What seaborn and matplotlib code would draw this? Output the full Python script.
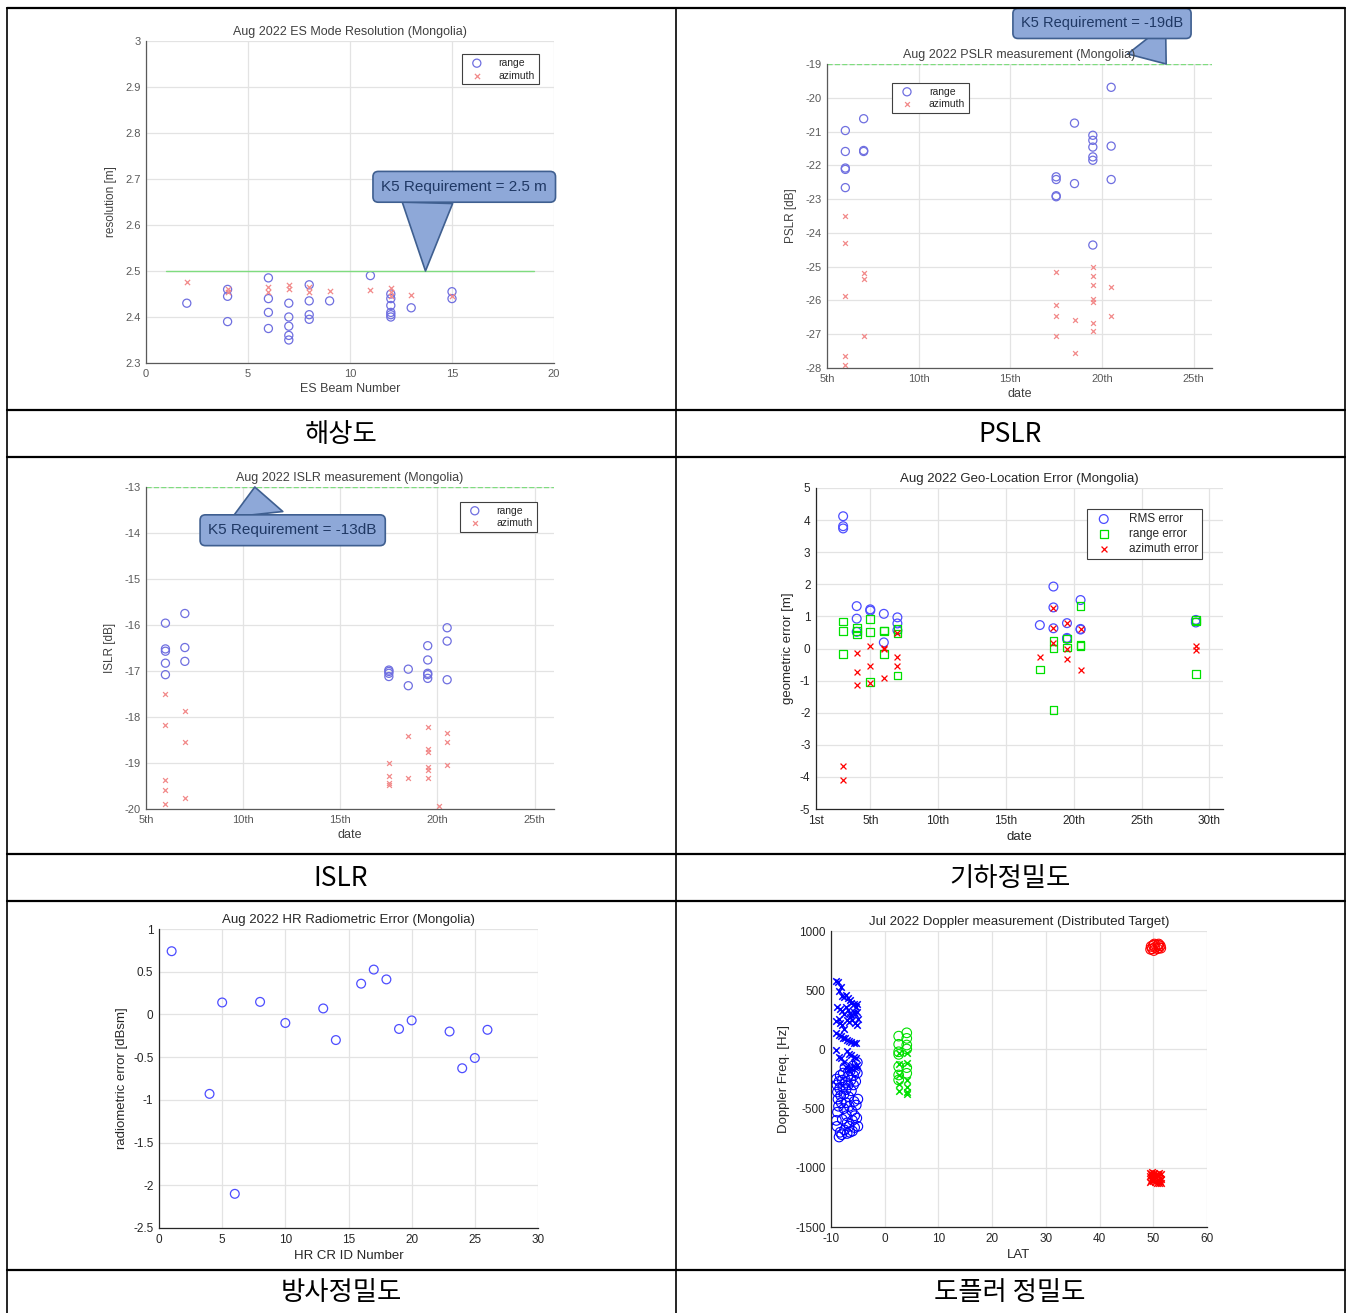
import matplotlib
matplotlib.use("Agg")
import matplotlib.pyplot as plt
from matplotlib.lines import Line2D
from matplotlib.ticker import FuncFormatter
import seaborn as sns

# -----------------------------
# Data: ES mode resolution
# -----------------------------
res_range_beam = [2, 4, 4, 4, 6, 6, 6, 6, 7, 7, 7, 7, 7, 8, 8, 8, 8, 9, 11,
                  12, 12, 12, 12, 12, 12, 13, 15, 15]
res_range_val = [2.43, 2.39, 2.445, 2.46, 2.485, 2.44, 2.41, 2.375, 2.43, 2.40, 2.38, 2.36, 2.35,
                 2.47, 2.435, 2.405, 2.395, 2.435, 2.49,
                 2.45, 2.44, 2.425, 2.41, 2.405, 2.40, 2.42, 2.455, 2.44]
res_az_beam = [2, 4, 4, 6, 6, 7, 7, 8, 8, 9, 11, 12, 12, 12, 13, 15]
res_az_val = [2.475, 2.46, 2.455, 2.465, 2.455, 2.47, 2.46, 2.465, 2.455, 2.457, 2.458,
              2.462, 2.455, 2.445, 2.447, 2.445]
res_req = 2.5
res_req_span = [1, 19]

# -----------------------------
# Data: PSLR
# -----------------------------
pslr_range_day = [6, 6, 6, 6, 6, 7, 7, 7, 17.5, 17.5, 17.5, 17.5, 18.5, 18.5,
                  19.5, 19.5, 19.5, 19.5, 19.5, 19.5, 20.5, 20.5, 20.5]
pslr_range_val = [-20.97, -21.59, -22.08, -22.12, -22.66, -20.62, -21.56, -21.59,
                  -22.34, -22.42, -22.90, -22.93, -20.75, -22.54,
                  -21.11, -21.26, -21.46, -21.75, -21.85, -24.36, -19.69, -21.43, -22.42]
pslr_az_day = [6, 6, 6, 6, 6, 7, 7, 7, 17.5, 17.5, 17.5, 17.5, 18.5, 18.5,
               19.5, 19.5, 19.5, 19.5, 19.5, 19.5, 19.5, 20.5, 20.5]
pslr_az_val = [-23.49, -24.31, -25.88, -27.65, -27.9, -25.19, -25.37, -27.06,
               -25.17, -26.13, -26.47, -27.04, -26.59, -27.55,
               -25.02, -25.29, -25.54, -25.96, -26.06, -26.67, -26.89, -25.61, -26.45]
pslr_req = -19

# -----------------------------
# Data: ISLR
# -----------------------------
islr_range_day = [6, 6, 6, 6, 6, 7, 7, 7, 17.5, 17.5, 17.5, 17.5, 18.5, 18.5,
                  19.5, 19.5, 19.5, 19.5, 19.5, 20.5, 20.5, 20.5]
islr_range_val = [-15.96, -16.52, -16.57, -16.83, -17.08, -15.75, -16.49, -16.79,
                  -16.98, -17.01, -17.05, -17.12, -16.96, -17.32,
                  -16.45, -16.76, -17.05, -17.08, -17.16, -16.06, -16.35, -17.19]
islr_az_day = [6, 6, 6, 6, 6, 7, 7, 7, 17.5, 17.5, 17.5, 17.5, 18.5, 18.5,
               19.5, 19.5, 19.5, 19.5, 19.5, 19.5, 20.1, 20.5, 20.5, 20.5]
islr_az_val = [-17.5, -18.17, -19.38, -19.58, -19.89, -17.88, -18.55, -19.75,
               -19.0, -19.29, -19.43, -19.47, -18.42, -19.33,
               -18.21, -18.69, -18.77, -19.08, -19.15, -19.33, -19.94, -18.35, -18.55, -19.04]
islr_req = -13

# -----------------------------
# Data: geo-location error
# -----------------------------
geo_rms_day = [3, 3, 3, 4, 4, 4, 5, 5, 6, 6, 7, 7, 7, 17.5, 18.5, 18.5, 18.5,
               19.5, 19.5, 19.5, 20.5, 20.5, 20.5, 29, 29]
geo_rms_val = [4.12, 3.81, 3.74, 1.32, 0.93, 0.52, 1.22, 1.18, 1.08, 0.19, 0.97, 0.78, 0.57,
               0.73, 1.93, 1.28, 0.63, 0.79, 0.33, 0.30, 1.51, 0.61, 0.59, 0.89, 0.81]
geo_rng_day = [3, 3, 3, 4, 4, 4, 5, 5, 5, 6, 6, 6, 7, 7, 7, 17.5, 18.5, 18.5, 18.5,
               19.5, 19.5, 20.5, 20.5, 20.5, 29, 29, 29]
geo_rng_val = [0.84, 0.54, -0.17, 0.63, 0.54, 0.44, 0.92, 0.52, -1.05, 0.56, 0.54, -0.17,
               0.60, 0.47, -0.84, -0.65, 0.23, 0.0, -1.91, 0.31, 0.03, 1.33, 0.11, 0.07,
               0.89, 0.84, -0.80]
geo_az_day = [3, 3, 4, 4, 4, 5, 5, 5, 6, 6, 6, 7, 7, 7, 17.5, 18.5, 18.5, 18.5,
              19.5, 19.5, 19.5, 20.5, 20.5, 29, 29]
geo_az_val = [-3.67, -4.10, -0.13, -0.74, -1.15, 0.08, -0.53, -1.08, 0.03, 0.0, -0.93,
              0.47, -0.28, -0.54, -0.28, 1.27, 0.65, 0.16, 0.79, 0.0, -0.32, 0.61, -0.68,
              0.07, -0.06]

# -----------------------------
# Data: radiometric error
# -----------------------------
rad_id = [1, 4, 5, 6, 8, 10, 13, 14, 16, 17, 18, 19, 20, 23, 24, 25, 26]
rad_err = [0.74, -0.93, 0.14, -2.10, 0.147, -0.10, 0.07, -0.30, 0.36, 0.525, 0.41,
           -0.17, -0.07, -0.20, -0.63, -0.51, -0.18]

# -----------------------------
# Data: Doppler
# -----------------------------
dop_bx_lat = [-9.0, -8.7, -8.5, -8.1, -7.9, -7.5, -7.2, -6.9, -6.5, -6.2, -5.8, -5.4, -5.1,
              -8.8, -8.4, -8.0, -7.6, -7.2, -6.9, -6.5, -6.2, -5.8, -5.5, -5.1,
              -9.0, -8.6, -8.3, -7.9, -7.5, -7.1, -6.7, -6.4, -6.0, -5.6, -5.2, -5.0,
              -9.0, -8.6, -8.2, -7.8, -7.4, -7.0, -6.6, -6.2, -5.8, -5.3,
              -9.1, -8.5, -8.1, -7.6, -7.0, -6.6, -6.2, -5.8, -5.3,
              -7.2, -6.7, -6.3, -5.9, -5.5, -5.1]
dop_bx_hz = [575, 570, 490, 530, 455, 445, 460, 430, 415, 390, 385, 360, 380,
             360, 345, 325, 300, 360, 330, 310, 290, 320, 300, 320,
             240, 255, 225, 210, 175, 250, 235, 270, 250, 220, 205, 260,
             135, 120, 110, 100, 95, 80, 70, 65, 55, 50,
             -5, -60, -75, -110, -10, -40, -50, -65, -70,
             -150, -175, -160, -140, -150, -130]
dop_bo_lat = [-9.0, -8.9, -8.8, -8.7, -8.6, -8.8, -8.5, -8.4, -8.3, -8.2, -8.1, -8.3, -8.5,
              -8.0, -7.9, -7.8, -7.7, -7.6, -7.6, -7.5, -7.4, -7.3, -7.2, -7.2, -7.1, -7.0,
              -7.0, -6.9, -6.8, -6.7, -6.6, -6.6, -6.5, -6.4, -6.3, -6.2, -6.1, -6.0, -6.0,
              -5.9, -5.8, -5.8, -5.7, -5.6, -5.6, -5.5, -5.4, -5.3, -5.2, -5.1, -5.1, -5.0,
              -5.0, -9.0, -8.9, -7.9]
dop_bo_hz = [-250, -300, -360, -420, -480, -530, -270, -330, -220, -390, -450, -700, -740,
             -720, -260, -320, -200, -380, -500, -680, -150, -280, -340, -450, -560, -620,
             -710, -230, -300, -400, -480, -650, -700, -180, -260, -350, -520, -600, -690,
             -140, -220, -300, -440, -560, -660, -180, -270, -470, -580, -110, -200, -420,
             -650, -600, -650, -590]
dop_go_lat = [2.6, 2.6, 2.6, 2.6, 2.6, 2.6, 2.6, 4.1, 4.1, 4.1, 4.1, 4.1, 4.1]
dop_go_hz = [112, 43, -20, -42, -146, -216, -258, 140, 93, 37, 3, -154, -202]
dop_gx_lat = [2.6, 2.6, 2.6, 2.6, 2.6, 4.1, 4.1, 4.1, 4.1, 4.1, 4.1]
dop_gx_hz = [-28, -126, -216, -292, -351, -34, -118, -258, -314, -362, -379]
dop_ro_lat = [49.6, 49.8, 50.0, 50.1, 50.3, 49.5, 50.9, 51.1, 51.3, 50.8, 51.0, 51.4, 50.2]
dop_ro_hz = [870, 850, 880, 835, 860, 845, 880, 860, 875, 850, 890, 855, 890]
dop_rx_lat = [49.3, 49.4, 49.5, 49.6, 49.7, 49.8, 49.9, 50.0, 50.1, 50.2, 50.3, 50.5,
              50.7, 50.8, 50.9, 51.0, 51.1, 51.2, 51.3, 51.4, 51.5, 49.4, 50.6, 51.5]
dop_rx_hz = [-1040, -1070, -1100, -1055, -1085, -1035, -1115, -1060, -1090, -1045, -1120,
             -1075, -1050, -1100, -1065, -1125, -1040, -1085, -1110, -1055, -1095, -1120,
             -1130, -1130]

captions = ["해상도", "PSLR", "ISLR", "기하정밀도", "방사정밀도", "도플러 정밀도"]

# -----------------------------
# Figure set-up
# -----------------------------
sns.set_style("white")
plt.rcParams["font.family"] = ["Liberation Sans", "DejaVu Sans"]
plt.rcParams["axes.unicode_minus"] = False

W, H = 1346, 1313
fig = plt.figure(figsize=(W / 100, H / 100), dpi=100)


def px_axes(l, t, r, b):
    return fig.add_axes([l / W, 1 - b / H, (r - l) / W, (b - t) / H])


def style_ax(ax, faded=False, fs=8.5):
    tc = "#5a5a5a" if faded else "#262626"
    for s in ["top", "right"]:
        ax.spines[s].set_visible(False)
    for s in ["left", "bottom"]:
        ax.spines[s].set_color(tc)
        ax.spines[s].set_linewidth(0.9)
    ax.grid(True, color="#e3e3e3", linewidth=0.9)
    ax.set_axisbelow(True)
    ax.tick_params(direction="in", length=3, colors=tc, labelsize=fs, pad=4)
    ax.yaxis.set_major_formatter(FuncFormatter(lambda v, p: f"{v:g}"))


def legend(ax, fs=8, **kw):
    lg = ax.legend(frameon=True, fancybox=False, framealpha=1, fontsize=fs,
                   handlelength=2.2, handletextpad=1.0, borderpad=0.35,
                   labelspacing=0.25, **kw)
    lg.get_frame().set_edgecolor("#404040")
    lg.get_frame().set_linewidth(0.8)
    return lg


def callout(ax, text, tip, box, relpos, fs=11):
    ax.annotate(text, xy=tip, xytext=box, ha="center", va="center", fontsize=fs,
                color="#1f3864",
                bbox=dict(boxstyle="round,pad=0.55,rounding_size=0.35", fc="#8ea8d8",
                          ec="#3f5f90", lw=1.2),
                arrowprops=dict(arrowstyle="wedge,tail_width=3.3,shrink_factor=0.5",
                                fc="#8ea8d8", ec="#3f5f90", lw=1.2, relpos=relpos,
                                shrinkA=0, shrinkB=0),
                annotation_clip=False)


faint_blue = "#6f6fe0"
faint_red = "#f28a8a"
date_ticks = [5, 10, 15, 20, 25]
date_labels = ["5th", "10th", "15th", "20th", "25th"]

# -----------------------------
# Panel 1: resolution
# -----------------------------
ax1 = px_axes(146, 41, 554, 363)
sns.lineplot(x=res_req_span, y=[res_req, res_req], color="#7fdc7f", lw=1, ax=ax1)
sns.scatterplot(x=res_range_beam, y=res_range_val, marker="o", s=34, facecolor="none",
                edgecolor=faint_blue, linewidth=0.9, ax=ax1, label="range")
sns.scatterplot(x=res_az_beam, y=res_az_val, marker="x", s=14, color=faint_red,
                linewidth=0.9, ax=ax1, label="azimuth")
ax1.set_xlim(0, 20)
ax1.set_ylim(2.3, 3)
ax1.set_xticks([0, 5, 10, 15, 20])
ax1.set_yticks([2.3, 2.4, 2.5, 2.6, 2.7, 2.8, 2.9, 3.0])
style_ax(ax1, faded=True, fs=8)
ax1.set_title("Aug 2022 ES Mode Resolution (Mongolia)", fontsize=9, color="#404040", pad=4)
ax1.set_xlabel("ES Beam Number", fontsize=9, color="#404040", labelpad=3)
ax1.set_ylabel("resolution [m]", fontsize=8.5, color="#404040", labelpad=6)
legend(ax1, loc="upper right", bbox_to_anchor=(0.975, 0.975), fs=7.5)
callout(ax1, "K5 Requirement = 2.5 m", (13.7, res_req), (15.6, 2.683), (0.28, 0.2))

# -----------------------------
# Panel 2: PSLR
# -----------------------------
ax2 = px_axes(827, 64, 1212, 368)
sns.lineplot(x=[5, 26], y=[pslr_req, pslr_req], color="#7fdc7f", lw=1, ls="--", ax=ax2)
sns.scatterplot(x=pslr_range_day, y=pslr_range_val, marker="o", s=34, facecolor="none",
                edgecolor=faint_blue, linewidth=0.9, ax=ax2, label="range")
sns.scatterplot(x=pslr_az_day, y=pslr_az_val, marker="x", s=12, color=faint_red,
                linewidth=0.9, ax=ax2, label="azimuth")
ax2.set_xlim(5, 26)
ax2.set_ylim(-28, -19)
ax2.set_xticks(date_ticks)
ax2.set_xticklabels(date_labels)
ax2.set_yticks(range(-28, -18))
style_ax(ax2, faded=True, fs=8)
ax2.set_title("Aug 2022 PSLR measurement (Mongolia)", fontsize=9, color="#404040", pad=4)
ax2.set_xlabel("date", fontsize=9, color="#404040", labelpad=3)
ax2.set_ylabel("PSLR [dB]", fontsize=8.5, color="#404040", labelpad=6)
legend(ax2, loc="upper left", bbox_to_anchor=(0.155, 0.955), fs=7.5)
callout(ax2, "K5 Requirement = -19dB", (23.5, pslr_req), (20.0, -17.8), (0.72, 0.2), fs=10.5)

# -----------------------------
# Panel 3: ISLR
# -----------------------------
ax3 = px_axes(146, 487, 554, 809)
sns.lineplot(x=[5, 26], y=[islr_req, islr_req], color="#7fdc7f", lw=1, ls="--", ax=ax3)
sns.scatterplot(x=islr_range_day, y=islr_range_val, marker="o", s=34, facecolor="none",
                edgecolor=faint_blue, linewidth=0.9, ax=ax3, label="range")
sns.scatterplot(x=islr_az_day, y=islr_az_val, marker="x", s=12, color=faint_red,
                linewidth=0.9, ax=ax3, label="azimuth")
ax3.set_xlim(5, 26)
ax3.set_ylim(-20, -13)
ax3.set_xticks(date_ticks)
ax3.set_xticklabels(date_labels)
ax3.set_yticks(range(-20, -12))
style_ax(ax3, faded=True, fs=8)
ax3.set_title("Aug 2022 ISLR measurement (Mongolia)", fontsize=9, color="#404040", pad=4)
ax3.set_xlabel("date", fontsize=9, color="#404040", labelpad=3)
ax3.set_ylabel("ISLR [dB]", fontsize=8.5, color="#404040", labelpad=6)
legend(ax3, loc="upper right", bbox_to_anchor=(0.97, 0.97), fs=7.5)
callout(ax3, "K5 Requirement = -13dB", (10.6, islr_req), (12.55, -13.94), (0.3, 0.8))

# -----------------------------
# Panel 4: geo-location error
# -----------------------------
ax4 = px_axes(816, 488, 1223, 809)
sns.scatterplot(x=geo_rms_day, y=geo_rms_val, marker="o", s=40, facecolor="none",
                edgecolor="#4d4dff", linewidth=0.9, ax=ax4, label="RMS error")
sns.scatterplot(x=geo_rng_day, y=geo_rng_val, marker="s", s=30, facecolor="none",
                edgecolor="#00e000", linewidth=0.9, ax=ax4, label="range error")
sns.scatterplot(x=geo_az_day, y=geo_az_val, marker="x", s=18, color="#ff0000",
                linewidth=0.9, ax=ax4, label="azimuth error")
ax4.set_xlim(1, 31)
ax4.set_ylim(-5, 5)
ax4.set_xticks([1, 5, 10, 15, 20, 25, 30])
ax4.set_xticklabels(["1st", "5th", "10th", "15th", "20th", "25th", "30th"])
ax4.set_yticks(range(-5, 6))
style_ax(ax4, fs=8.5)
ax4.set_title("Aug 2022 Geo-Location Error (Mongolia)", fontsize=9.5, color="#262626", pad=4)
ax4.set_xlabel("date", fontsize=9.5, color="#262626", labelpad=3)
ax4.set_ylabel("geometric error [m]", fontsize=9.5, color="#262626", labelpad=4)
legend(ax4, loc="upper right", bbox_to_anchor=(0.963, 0.953), fs=8.5)

# -----------------------------
# Panel 5: radiometric error
# -----------------------------
ax5 = px_axes(159, 929, 538, 1228)
sns.scatterplot(x=rad_id, y=rad_err, marker="o", s=40, facecolor="none",
                edgecolor="#4d4dff", linewidth=0.9, ax=ax5)
ax5.set_xlim(0, 30)
ax5.set_ylim(-2.5, 1)
ax5.set_xticks(range(0, 31, 5))
ax5.set_yticks([-2.5, -2, -1.5, -1, -0.5, 0, 0.5, 1])
style_ax(ax5, fs=8.5)
ax5.set_title("Aug 2022 HR Radiometric Error (Mongolia)", fontsize=9.5, color="#262626", pad=4)
ax5.set_xlabel("HR CR ID Number", fontsize=9.5, color="#262626", labelpad=3)
ax5.set_ylabel("radiometric error [dBsm]", fontsize=9.5, color="#262626", labelpad=4)

# -----------------------------
# Panel 6: Doppler
# -----------------------------
ax6 = px_axes(831, 931, 1207, 1227)
sns.scatterplot(x=dop_bo_lat, y=dop_bo_hz, marker="o", s=48, facecolor="none",
                edgecolor="#0000ff", linewidth=0.8, ax=ax6)
sns.scatterplot(x=dop_bx_lat, y=dop_bx_hz, marker="x", s=22, color="#0000ff",
                linewidth=1.1, ax=ax6)
sns.scatterplot(x=dop_go_lat, y=dop_go_hz, marker="o", s=48, facecolor="none",
                edgecolor="#00e000", linewidth=0.8, ax=ax6)
sns.scatterplot(x=dop_gx_lat, y=dop_gx_hz, marker="x", s=22, color="#00e000",
                linewidth=1.1, ax=ax6)
sns.scatterplot(x=dop_ro_lat, y=dop_ro_hz, marker="o", s=48, facecolor="none",
                edgecolor="#ff0000", linewidth=0.8, ax=ax6)
sns.scatterplot(x=dop_rx_lat, y=dop_rx_hz, marker="x", s=22, color="#ff0000",
                linewidth=1.1, ax=ax6)
ax6.set_xlim(-10, 60)
ax6.set_ylim(-1500, 1000)
ax6.set_xticks(range(-10, 61, 10))
ax6.set_yticks(range(-1500, 1001, 500))
style_ax(ax6, fs=8.5)
ax6.set_title("Jul 2022 Doppler measurement (Distributed Target)", fontsize=9.5,
              color="#262626", pad=4)
ax6.set_xlabel("LAT", fontsize=9.5, color="#262626", labelpad=3)
ax6.set_ylabel("Doppler Freq. [Hz]", fontsize=9.5, color="#262626", labelpad=4)

# -----------------------------
# Table frame and captions
# -----------------------------
def hline(y, x0=7, x1=1345, lw=1.6):
    fig.add_artist(Line2D([x0 / W, x1 / W], [1 - y / H, 1 - y / H],
                          transform=fig.transFigure, color="black", lw=lw))


def vline(x, y0=8, y1=1313, lw=1.2):
    fig.add_artist(Line2D([x / W, x / W], [1 - y0 / H, 1 - y1 / H],
                          transform=fig.transFigure, color="black", lw=lw))


for y in [8, 410, 457, 854, 901, 1270]:
    hline(y)
for x in [7, 676, 1345]:
    vline(x)

cap_pos = [(341, 434), (1010, 434), (341, 878), (1010, 878), (341, 1292), (1010, 1292)]
for text, (cx, cy) in zip(captions, cap_pos):
    fig.text(cx / W, 1 - cy / H, text, ha="center", va="center", fontsize=19,
             family=["Noto Sans CJK KR", "DejaVu Sans"], color="black")

plt.savefig("out.png", dpi=100)
